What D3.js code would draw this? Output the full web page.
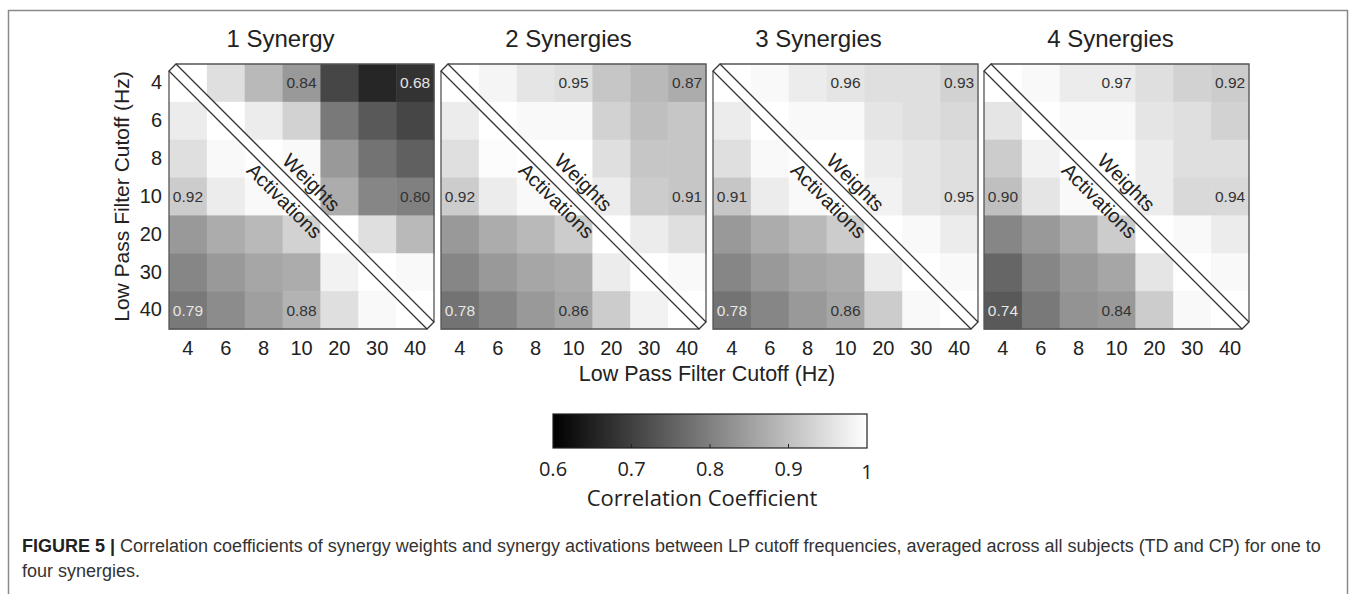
<!DOCTYPE html>
<html>
<head>
<meta charset="utf-8">
<script src="https://cdn.jsdelivr.net/npm/d3@7"></script>
<style>
  html, body { margin: 0; padding: 0; background: #fff; }
  svg { display: block; }
</style>
</head>
<body>
<svg id="chart" width="1358" height="594"></svg>
<script>
// ---------------- DATA ----------------
const freqs = ["4", "6", "8", "10", "20", "30", "40"];
const panelTitles = ["1 Synergy", "2 Synergies", "3 Synergies", "4 Synergies"];
// rows = y (4..40 top to bottom), cols = x (4..40 left to right)
// upper triangle = Weights, lower triangle = Activations
const synergy1 = [
  [1.00, 0.95, 0.89, 0.84, 0.71, 0.66, 0.68],
  [0.97, 1.00, 0.97, 0.93, 0.79, 0.74, 0.71],
  [0.95, 0.99, 1.00, 0.99, 0.84, 0.78, 0.75],
  [0.92, 0.97, 0.99, 1.00, 0.87, 0.81, 0.80],
  [0.84, 0.87, 0.89, 0.93, 1.00, 0.95, 0.89],
  [0.81, 0.84, 0.86, 0.87, 0.98, 1.00, 0.99],
  [0.79, 0.82, 0.85, 0.88, 0.95, 0.99, 1.00]
];
const synergy2 = [
  [1.00, 0.985, 0.96, 0.95, 0.91, 0.89, 0.87],
  [0.97, 1.00, 0.99, 0.99, 0.93, 0.90, 0.91],
  [0.95, 0.995, 1.00, 1.00, 0.95, 0.91, 0.91],
  [0.92, 0.97, 0.99, 1.00, 0.97, 0.92, 0.91],
  [0.84, 0.87, 0.89, 0.92, 1.00, 0.97, 0.95],
  [0.81, 0.84, 0.86, 0.87, 0.97, 1.00, 0.99],
  [0.78, 0.81, 0.84, 0.86, 0.92, 0.98, 1.00]
];
const synergy3 = [
  [1.00, 0.99, 0.97, 0.96, 0.95, 0.95, 0.93],
  [0.97, 1.00, 0.99, 0.99, 0.96, 0.95, 0.94],
  [0.95, 0.99, 1.00, 1.00, 0.97, 0.96, 0.95],
  [0.91, 0.97, 0.99, 1.00, 0.98, 0.96, 0.95],
  [0.84, 0.87, 0.89, 0.92, 1.00, 0.99, 0.97],
  [0.81, 0.84, 0.86, 0.87, 0.97, 1.00, 0.99],
  [0.78, 0.81, 0.84, 0.86, 0.92, 0.99, 1.00]
];
const synergy4 = [
  [1.00, 0.99, 0.97, 0.97, 0.95, 0.93, 0.92],
  [0.96, 1.00, 0.99, 0.99, 0.96, 0.95, 0.93],
  [0.92, 0.98, 1.00, 1.00, 0.97, 0.95, 0.95],
  [0.90, 0.96, 0.99, 1.00, 0.97, 0.94, 0.94],
  [0.81, 0.84, 0.87, 0.92, 1.00, 0.99, 0.97],
  [0.76, 0.81, 0.84, 0.86, 0.96, 1.00, 0.99],
  [0.74, 0.79, 0.83, 0.84, 0.92, 0.99, 1.00]
];
// annotated cells [rowLabel, colLabel]
const annotated = [["4","10"],["4","40"],["10","4"],["10","40"],["40","4"],["40","10"]];
const colorTicks = [0.6, 0.7, 0.8, 0.9, 1];
const axisTitle = "Low Pass Filter Cutoff (Hz)";
const colorbarTitle = "Correlation Coefficient";
const captionBold = "FIGURE 5 |";
const captionLine1 = " Correlation coefficients of synergy weights and synergy activations between LP cutoff frequencies, averaged across all subjects (TD and CP) for one to";
const captionLine2 = "four synergies.";

// ---------------- LAYOUT ----------------
const matrices = [synergy1, synergy2, synergy3, synergy4];
const panelX = [169, 441, 713, 984];
const titleDx = [-21, -5, -27, -6];
const top0 = 64, size = 265;
const fontMain = "'Liberation Sans', Arial, Helvetica, sans-serif";
const fontLegend = "'Open Sans', 'Noto Sans', sans-serif";

const svg = d3.select("#chart");
svg.append("rect").attr("width", 1358).attr("height", 594).attr("fill", "#fff");

// outer frame
svg.append("path")
  .attr("d", "M8.5,594 V10.5 H1347.5 V594")
  .attr("fill", "none").attr("stroke", "#8a8a8a").attr("stroke-width", 1.5);

const color = d3.scaleLinear().domain([0.6, 1]).range(["#000000", "#ffffff"]).clamp(true);
const fmt = d3.format(".2f");

matrices.forEach((M, p) => {
  const x0 = panelX[p];
  const x = d3.scaleBand().domain(freqs).range([x0, x0 + size]);
  const y = d3.scaleBand().domain(freqs).range([top0, top0 + size]);
  const g = svg.append("g");

  const cells = [];
  M.forEach((row, i) => row.forEach((v, j) => cells.push({ r: freqs[i], c: freqs[j], v })));

  g.selectAll("rect.cell").data(cells).join("rect")
    .attr("class", "cell")
    .attr("x", d => x(d.c)).attr("y", d => y(d.r))
    .attr("width", x.bandwidth() + 0.5).attr("height", y.bandwidth() + 0.5)
    .attr("fill", d => color(d.v));

  // value labels
  const ann = annotated.map(([r, c]) => ({ r, c, v: M[freqs.indexOf(r)][freqs.indexOf(c)] }));
  g.selectAll("text.val").data(ann).join("text")
    .attr("class", "val")
    .attr("x", d => x(d.c) + x.bandwidth() / 2)
    .attr("y", d => y(d.r) + y.bandwidth() / 2)
    .attr("text-anchor", "middle").attr("dominant-baseline", "central")
    .attr("font-family", fontMain).attr("font-size", 15.5)
    .attr("fill", d => d.v < 0.8 ? "#e6e6e6" : "#333")
    .text(d => fmt(d.v));

  const x1 = x0 + size, y0 = top0, y1 = top0 + size, dd = 7;
  // box border (corners cut by diagonal band)
  g.append("path")
    .attr("d", `M${x0 + dd},${y0} H${x1} V${y1 - dd} M${x1 - dd},${y1} H${x0} V${y0 + dd}`)
    .attr("fill", "none").attr("stroke", "#555").attr("stroke-width", 1.3);

  // diagonal band
  g.append("path")
    .attr("d", `M${x0 + dd},${y0} L${x1},${y1 - dd} L${x1 - dd},${y1} L${x0},${y0 + dd} Z`)
    .attr("fill", "#fff").attr("stroke", "#333").attr("stroke-width", 1.3);

  const cx = (x0 + x1) / 2, cy = (y0 + y1) / 2;
  const lab = g.append("g").attr("transform", `translate(${cx},${cy}) rotate(45)`);
  lab.append("text").attr("x", -3).attr("y", -10)
    .attr("text-anchor", "middle").attr("font-family", fontMain).attr("font-size", 20)
    .attr("fill", "#222").text("Weights");
  lab.append("text").attr("x", -9).attr("y", 22)
    .attr("text-anchor", "middle").attr("font-family", fontMain).attr("font-size", 20)
    .attr("fill", "#222").text("Activations");

  // title
  svg.append("text")
    .attr("x", cx + titleDx[p]).attr("y", 47)
    .attr("text-anchor", "middle").attr("font-family", fontMain).attr("font-size", 24)
    .attr("fill", "#222").text(panelTitles[p]);

  // x axis tick labels
  const xAxis = d3.axisBottom(x).tickSize(0).tickPadding(8);
  const gx = svg.append("g").attr("transform", `translate(0,${y1 + 4})`).call(xAxis);
  gx.select(".domain").remove();
  gx.selectAll("text").attr("font-family", fontMain).attr("font-size", 20).attr("fill", "#222");

  if (p === 0) {
    const yAxis = d3.axisLeft(y).tickSize(0).tickPadding(7);
    const gy = svg.append("g").attr("transform", `translate(${x0},0)`).call(yAxis);
    gy.select(".domain").remove();
    gy.selectAll("text").attr("font-family", fontMain).attr("font-size", 20).attr("fill", "#222");
    svg.append("text")
      .attr("transform", `translate(129,${(y0 + y1) / 2}) rotate(-90)`)
      .attr("text-anchor", "middle").attr("font-family", fontMain).attr("font-size", 21)
      .attr("fill", "#222").text(axisTitle);
  }
});

// shared x axis title
svg.append("text").attr("x", 707).attr("y", 381)
  .attr("text-anchor", "middle").attr("font-family", fontMain).attr("font-size", 21.5)
  .attr("fill", "#222").text(axisTitle);

// ---------------- COLORBAR ----------------
const cbX = d3.scaleLinear().domain([0.6, 1]).range([553, 867]);
const defs = svg.append("defs");
const grad = defs.append("linearGradient").attr("id", "cbgrad").attr("x1", "0%").attr("x2", "100%");
colorTicks.forEach(t => grad.append("stop")
  .attr("offset", ((t - 0.6) / 0.4 * 100) + "%").attr("stop-color", color(t)));
svg.append("rect").attr("x", cbX(0.6)).attr("y", 414).attr("width", cbX(1) - cbX(0.6)).attr("height", 34)
  .attr("fill", "url(#cbgrad)").attr("stroke", "#222").attr("stroke-width", 1.2);
svg.selectAll("line.cbt").data(colorTicks.slice(1, -1)).join("line")
  .attr("class", "cbt")
  .attr("x1", d => cbX(d)).attr("x2", d => cbX(d)).attr("y1", 448).attr("y2", 444)
  .attr("stroke", "#222").attr("stroke-width", 1);
svg.selectAll("text.cbl").data(colorTicks).join("text")
  .attr("class", "cbl")
  .attr("x", d => cbX(d)).attr("y", d => d === 1 ? 479 : 476)
  .attr("text-anchor", "middle").attr("font-family", fontLegend).attr("font-size", 20)
  .attr("fill", "#222").text(d => d === 1 ? "1" : d3.format(".1f")(d));
svg.append("text").attr("x", 702).attr("y", 506)
  .attr("text-anchor", "middle").attr("font-family", fontLegend).attr("font-size", 22)
  .attr("fill", "#222").text(colorbarTitle);

// ---------------- CAPTION ----------------
const cap = svg.append("text").attr("x", 22).attr("y", 552)
  .attr("font-family", fontMain).attr("font-size", 18).attr("fill", "#333");
cap.append("tspan").attr("font-weight", "bold").attr("fill", "#222").text(captionBold);
cap.append("tspan").text(captionLine1);
svg.append("text").attr("x", 22).attr("y", 577)
  .attr("font-family", fontMain).attr("font-size", 18).attr("fill", "#333").text(captionLine2);
</script>
</body>
</html>
